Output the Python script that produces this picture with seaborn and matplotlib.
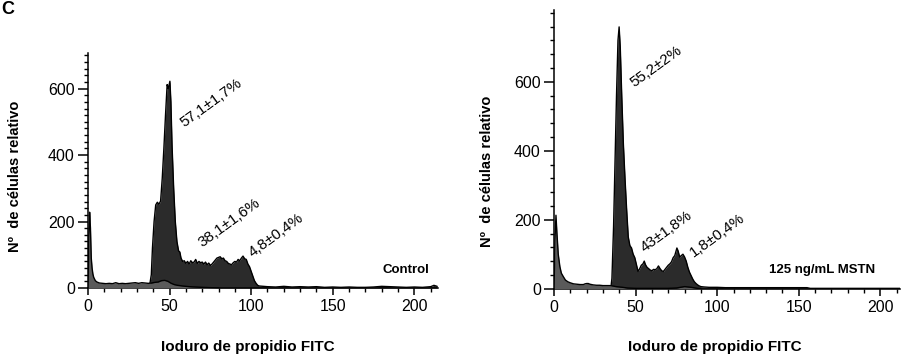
import numpy as np
import pandas as pd
import matplotlib
matplotlib.use("Agg")
import matplotlib.pyplot as plt
import seaborn as sns
from matplotlib.ticker import MultipleLocator

# ---------------- data ----------------
# Control panel: total histogram (dark) from channel ~38 on
ctrl_dark_x = [38.0, 38.8, 39.5, 40.5, 41.5, 42.5, 43.5, 44.5, 45.5, 46.5, 47.5, 48.5, 49.2, 50.2, 50.8,
               51.5, 52.5, 53.5, 54.5, 55.5, 56.3, 57, 58, 59, 60, 61, 62, 63, 64, 65, 66, 67, 68, 69, 70,
               71, 72, 73, 74, 75, 76, 77, 78, 79, 80, 81, 82, 83, 84, 85, 86, 87, 88, 89, 90, 91, 92, 93,
               94, 95, 96, 97, 98, 99, 100, 101, 102, 103, 104, 105, 110, 115, 120, 125, 130, 135, 140,
               145, 150, 155, 160, 165, 170, 175, 180, 185, 190, 195, 200, 205, 210, 212, 214]
ctrl_dark_y = [15, 40, 120, 200, 250, 258, 252, 262, 330, 420, 520, 612, 600, 622, 560,
               430, 300, 200, 140, 112, 108, 90, 80, 82, 74, 80, 72, 82, 76, 78, 86, 74, 80, 76, 78,
               72, 78, 70, 75, 68, 72, 78, 84, 90, 92, 94, 88, 90, 82, 80, 74, 72, 70, 76, 80, 78, 86, 82,
               90, 96, 88, 86, 72, 64, 50, 36, 22, 14, 8, 6, 4, 3, 5, 3, 4, 3, 4,
               2, 3, 2, 3, 2, 2, 3, 5, 4, 3, 2, 3, 2, 4, 8, 5]
# Control panel: debris / sub-G1 component (lighter grey)
ctrl_light_x = [0, 0.5, 1.0, 1.5, 2.0, 2.5, 3.0, 3.5, 4.5, 5.5, 7, 9, 11, 13, 15, 17, 19, 21, 23, 25, 27,
                29, 31, 33, 35, 37, 39, 41, 43, 45, 47, 49, 51, 53, 55, 58, 62, 66, 70, 75, 80]
ctrl_light_y = [0, 150, 228, 180, 90, 60, 42, 32, 22, 18, 15, 14, 13, 14, 13, 16, 13, 14, 13, 14, 15,
                16, 14, 16, 15, 14, 15, 17, 18, 22, 23, 20, 14, 10, 8, 6, 4, 3, 2, 1, 0]

# MSTN panel
mstn_dark_x = [35, 35.5, 36.5, 37.4, 38.3, 39.2, 39.9, 40.6, 41.5, 42.5, 43.5, 44.5, 45.5, 46.5, 47.5,
               48.5, 49.5, 50.5, 51.5, 52.5, 53.5, 54.5, 55.3, 56, 57, 58, 59, 60, 61, 62, 63, 64, 65, 66,
               67, 68, 69, 70, 71, 72, 73, 74, 75.3, 76, 77, 78, 79, 80, 81, 82, 83, 84, 85, 86, 87, 88,
               89, 90, 92, 95, 100, 105, 110, 120, 130, 140, 150, 155, 157, 160, 170, 180, 190, 200, 212]
mstn_dark_y = [9, 30, 180, 370, 560, 720, 759, 700, 560, 420, 320, 230, 150, 125, 118,
               100, 90, 70, 50, 58, 68, 72, 80, 70, 62, 58, 54, 52, 56, 55, 58, 66, 58, 52,
               50, 56, 62, 68, 72, 78, 90, 96, 118, 110, 92, 96, 100, 92, 80, 62, 48, 38, 28, 20, 15, 11,
               8, 6, 5, 4, 4, 3, 3, 3, 3, 3, 3, 3, 1, 1, 1, 1, 1, 1, 1]
mstn_light_x = [0, 0.6, 1.2, 1.8, 2.6, 3.6, 4.5, 5.7, 7, 8.5, 10, 12, 14, 16, 18, 19, 20, 21, 22, 24, 26,
                28, 30, 32, 34, 36, 38, 40, 42, 45, 50, 60, 70, 75, 80, 84, 88, 90]
mstn_light_y = [0, 140, 213, 160, 100, 64, 45, 35, 25, 20, 17, 14, 13, 12, 12, 14, 15, 15, 13, 11, 10,
                10, 9, 9, 9, 8, 6, 5, 4, 2, 1, 1, 1, 2, 6, 4, 1, 0]

x_ticks = [0, 50, 100, 150, 200]
y_ticks = [0, 200, 400, 600]
x_label = "Ioduro de propidio FITC"
y_label = "Nº  de células relativo"

ctrl_notes = ["57,1±1,7%", "38,1±1,6%", "4,8±0,4%"]
mstn_notes = ["55,2±2%", "43±1,8%", "1,8±0,4%"]

# ---------------- style ----------------
sns.set_theme(style="ticks")
plt.rcParams["font.family"] = ["Liberation Sans", "DejaVu Sans"]
plt.rcParams["axes.linewidth"] = 1.1

DARK = "#2b2b2b"
LIGHT = "#5a5a5a"

fig = plt.figure(figsize=(9.01, 3.59), dpi=100)
W, H = 901, 359


def panel(rect_px, xmax, ymax, dark_x, dark_y, light_x, light_y, ymin_step, notes, note_pos, tag, tag_pos,
          xlabel_px):
    x0, y_top, x1, y_bot = rect_px
    ax = fig.add_axes([x0 / W, (H - y_bot) / H, (x1 - x0) / W, (y_bot - y_top) / H])
    ax.set_facecolor("white")
    ddf = pd.DataFrame({"x": dark_x, "y": dark_y})
    ldf = pd.DataFrame({"x": light_x, "y": light_y})
    ax.fill_between(ddf["x"], 0, ddf["y"], color=DARK, linewidth=0, zorder=2)
    sns.lineplot(data=ddf, x="x", y="y", ax=ax, color="black", linewidth=1.0, zorder=3,
                 estimator=None, sort=False)
    ax.fill_between(ldf["x"], 0, ldf["y"], color=LIGHT, linewidth=0, zorder=4)
    sns.lineplot(data=ldf, x="x", y="y", ax=ax, color="black", linewidth=1.0, zorder=5,
                 estimator=None, sort=False)
    ax.set_xlim(0, xmax)
    ax.set_ylim(0, ymax)
    ax.set_xticks(x_ticks)
    ax.set_yticks(y_ticks)
    ax.xaxis.set_minor_locator(MultipleLocator(10))
    ax.yaxis.set_minor_locator(MultipleLocator(ymin_step))
    ax.tick_params(axis="y", which="major", direction="out", length=7.5, width=1.1, labelsize=11.5, pad=2,
                   colors="black")
    ax.tick_params(axis="x", which="major", direction="out", length=5, width=1.1, labelsize=11.5, pad=3,
                   colors="black")
    ax.tick_params(which="minor", direction="out", length=3, width=1.0, color="black")
    sns.despine(ax=ax)
    ax.spines["left"].set_color("black")
    ax.spines["bottom"].set_color("black")
    ax.set_xlabel("")
    ax.set_ylabel("")
    for txt, (tx, ty) in zip(notes, note_pos):
        ax.text(tx, ty, txt, rotation=36, ha="center", va="center", fontsize=11, color="black",
                rotation_mode="anchor", zorder=6)
    ax.text(tag_pos[0], tag_pos[1], tag, ha="right", va="center", fontsize=9.5, fontweight="bold",
            color="black", zorder=6)
    fig.text(xlabel_px[0] / W, 1 - xlabel_px[1] / H, x_label, ha="center", va="center", fontsize=11,
             fontweight="bold", color="black")
    fig.text(xlabel_px[2] / W, 1 - xlabel_px[3] / H, y_label, ha="center", va="center", fontsize=10.5,
             fontweight="bold", rotation=90, color="black")
    return ax


panel((88, 53, 438, 288), 214.5, 707, ctrl_dark_x, ctrl_dark_y, ctrl_light_x, ctrl_light_y, 20,
      ctrl_notes, [(75.2, 557), (86.5, 195), (115, 159)], "Control", (209.5, 54),
      (247.5, 346.7, 15, 176))
panel((554, 10, 900, 288.7), 212, 808, mstn_dark_x, mstn_dark_y, mstn_light_x, mstn_light_y, 40,
      mstn_notes, [(62.6, 645), (68.6, 165), (99.8, 156)], "125 ng/mL MSTN", (197, 53),
      (715, 346.7, 487, 171))

fig.text(1 / W, 1 - 10 / H, "C", ha="left", va="center", fontsize=13, fontweight="bold", color="black")

fig.savefig("out.png", dpi=100, facecolor="white")
